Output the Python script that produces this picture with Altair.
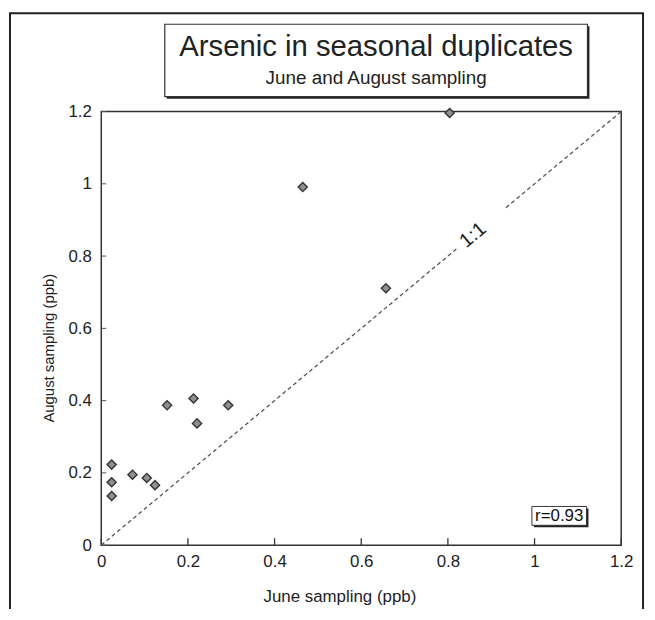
import altair as alt
import pandas as pd

# ---- data ----
june = [0.024, 0.024, 0.024, 0.072, 0.105, 0.124, 0.152, 0.213, 0.221, 0.293, 0.465, 0.657, 0.804]
august = [0.223, 0.174, 0.136, 0.195, 0.186, 0.166, 0.387, 0.406, 0.337, 0.387, 0.991, 0.711, 1.196]
tick_values = [0, 0.2, 0.4, 0.6, 0.8, 1.0, 1.2]
line_x1 = [0.0, 0.934]
line_x2 = [0.824, 1.2]
ratio_label = ["1:1"]
ratio_pos = [0.858]
title_text = ["Arsenic in seasonal duplicates"]
subtitle_text = ["June and August sampling"]
r_text = ["r=0.93"]

FONT = "Liberation Sans"
W, H = 524, 437

pts = pd.DataFrame({"june": june, "august": august})
seg = pd.DataFrame({"x1": line_x1, "x2": line_x2})
ticks = pd.DataFrame({"v": tick_values})
one = pd.DataFrame({"k": [0]})

xs = alt.Scale(domain=[0, 1.2], nice=False, zero=False)
ys = alt.Scale(domain=[0, 1.2], nice=False, zero=False)

xaxis = alt.Axis(values=tick_values, format="~g", grid=False, domain=False, ticks=False, tickSize=0,
                 labelFlush=False, labelOverlap=False,
                 labelFont=FONT, labelFontSize=17, labelColor="#222", labelPadding=9,
                 title="June sampling (ppb)", titleFont=FONT, titleFontSize=17, titleFontWeight="normal",
                 titleColor="#222", titleX=240, titleY=52, titleBaseline="middle", titleAlign="center")
yaxis = alt.Axis(values=tick_values, format="~g", grid=False, domain=False, ticks=False, tickSize=0,
                 labelFlush=False, labelOverlap=False,
                 labelFont=FONT, labelFontSize=17, labelColor="#222", labelPadding=10,
                 title="August sampling (ppb)", titleFont=FONT, titleFontSize=15, titleFontWeight="normal",
                 titleColor="#222", titleX=-53, titleY=238, titleAngle=270, titleBaseline="middle",
                 titleAlign="center")

# decorations (outer frame, title box, r box)
outer = alt.Chart(one).mark_rect(fillOpacity=0, stroke="#222", strokeWidth=2).encode(
    x=alt.value(-92), x2=alt.value(546), y=alt.value(-99), y2=alt.value(520))
tshadow = alt.Chart(one).mark_rect(fill="#222").encode(
    x=alt.value(66), x2=alt.value(492), y=alt.value(-86), y2=alt.value(-13))
tbox = alt.Chart(one).mark_rect(fill="white", stroke="#333", strokeWidth=1.2).encode(
    x=alt.value(64), x2=alt.value(490), y=alt.value(-88), y2=alt.value(-15))
title = alt.Chart(pd.DataFrame({"t": title_text})).mark_text(
    font=FONT, fontSize=29.5, color="#222", align="center", baseline="alphabetic").encode(
    text="t:N", x=alt.value(277), y=alt.value(-56))
subtitle = alt.Chart(pd.DataFrame({"t": subtitle_text})).mark_text(
    font=FONT, fontSize=19, color="#222", align="center", baseline="alphabetic").encode(
    text="t:N", x=alt.value(277), y=alt.value(-28))

rshadow = alt.Chart(one).mark_rect(fill="#222").encode(
    x=alt.value(436), x2=alt.value(491), y=alt.value(400), y2=alt.value(419))
rbox = alt.Chart(one).mark_rect(fill="white", stroke="#333", strokeWidth=1).encode(
    x=alt.value(434), x2=alt.value(489), y=alt.value(398), y2=alt.value(417))
rlabel = alt.Chart(pd.DataFrame({"t": r_text})).mark_text(
    font=FONT, fontSize=17, color="#111", align="center", baseline="middle").encode(
    text="t:N", x=alt.value(461.5), y=alt.value(408))

# inside ticks
xt = alt.Chart(ticks).mark_rule(color="#333", strokeWidth=1.3).encode(
    x=alt.X("v:Q", scale=xs, axis=xaxis), y=alt.value(H), y2=alt.value(H - 7))
yt = alt.Chart(ticks).mark_rule(color="#555", strokeWidth=1).encode(
    y=alt.Y("v:Q", scale=ys, axis=yaxis), x=alt.value(0), x2=alt.value(5))

lines = alt.Chart(seg).mark_rule(color="#555", strokeWidth=1.3, strokeDash=[4, 3]).encode(
    x=alt.X("x1:Q", scale=xs), x2="x2:Q", y=alt.Y("x1:Q", scale=ys), y2="x2:Q")

ratio = alt.Chart(pd.DataFrame({"t": ratio_label, "p": ratio_pos})).mark_text(
    font=FONT, fontSize=20, color="#222", angle=320, align="center", baseline="middle").encode(
    text="t:N", x=alt.X("p:Q", scale=xs), y=alt.Y("p:Q", scale=ys))

points = alt.Chart(pts).mark_point(shape="diamond", size=85, filled=True, fill="#8f8f8f",
                                   stroke="#333", strokeWidth=1.4, opacity=1).encode(
    x=alt.X("june:Q", scale=xs), y=alt.Y("august:Q", scale=ys))

chart = alt.layer(outer, tshadow, tbox, title, subtitle, xt, yt, lines, ratio, points,
                  rshadow, rbox, rlabel).properties(
    width=W, height=H,
    autosize=alt.AutoSizeParams(type="none"),
    padding={"left": 94, "top": 102, "right": 26, "bottom": 62},
    background="white",
).configure_view(stroke="#333", strokeWidth=1.5)

chart.save("out.html", embed_options={"renderer": "svg", "actions": False})
